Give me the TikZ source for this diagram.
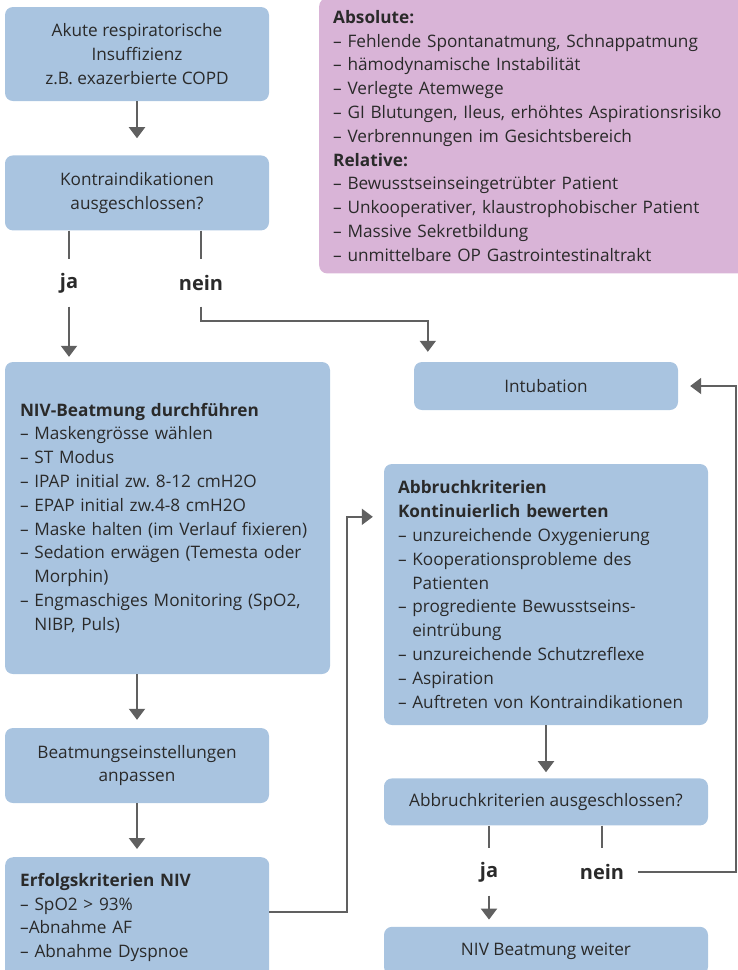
\documentclass[tikz,border=0pt]{standalone}
\usepackage{fontspec}
\setmainfont{Open Sans}
\usetikzlibrary{positioning,arrows.meta}
\definecolor{boxblue}{HTML}{A9C4E0}
\definecolor{boxpink}{HTML}{D9B4D7}
\definecolor{linegray}{HTML}{606060}
\definecolor{textgray}{HTML}{2A2A2A}
\newcommand{\ind}{\phantom{– }}
\frenchspacing

\begin{document}
\begin{tikzpicture}[x=1pt,y=-1pt,
      every node/.style={text=textgray,font=\fontsize{17.2}{23.8}\selectfont},
      box/.style={rectangle,fill=boxblue,rounded corners=8pt,inner sep=0pt,
                  align=center,minimum width=264pt},
      listbox/.style={box,align=left,inner xsep=15pt},
      note/.style={rectangle,fill=boxpink,rounded corners=8pt,align=left,
                   inner xsep=14pt,inner ysep=12pt,text width=404pt},
      answer/.style={inner sep=0pt,minimum height=47pt,
                     font=\fontsize{20}{22}\selectfont\bfseries},
      conn/.style={draw=linegray,line width=2pt},
      arr/.style={conn,-{Triangle[width=16pt,length=11pt]}},
    ]
      \useasboundingbox (0,0) rectangle (737,970);
      % left column
      \node[box,minimum height=94pt] (akut) at (137,54)
        {Akute respiratorische\\Insuffizienz\\z.B. exazerbierte COPD};
      \node[box,minimum height=75pt,below=54pt of akut] (kontra)
        {Kontraindikationen\\ausgeschlossen?};
      \node[answer] (ja1) at (69,283) {ja};
      \node[answer] (nein1) at (201,283) {nein};
      \node[listbox,minimum width=325pt,minimum height=312pt,text width=295pt]
        (niv) at (167.5,518) {%
        \textbf{NIV-Beatmung durchführen}\\
        – Maskengrösse wählen\\
        – ST Modus\\
        – IPAP initial zw. 8-12 cmH2O\\
        – EPAP initial zw.4-8 cmH2O\\
        – Maske halten (im Verlauf fixieren)\\
        – Sedation erwägen (Temesta oder\\
        \ind Morphin)\\
        – Engmaschiges Monitoring (SpO2,\\
        \ind NIBP, Puls)};
      \node[box,minimum height=75pt] (beatm) at (137,765.5)
        {Beatmungseinstellungen\\anpassen};
      \node[listbox,inner ysep=16pt,text width=234pt,anchor=north west]
        (erfolg) at (5,857) {%
        \textbf{Erfolgskriterien NIV}\\
        – SpO2 > 93\%\\
        –Abnahme AF\\
        – Abnahme Dyspnoe};
      % contraindications
      \node[note,anchor=north west] (kinote) at (319,-2) {%
        \textbf{Absolute:}\\
        – Fehlende Spontanatmung, Schnappatmung\\
        – hämodynamische Instabilität\\
        – Verlegte Atemwege\\
        – GI Blutungen, Ileus, erhöhtes Aspirationsrisiko\\
        – Verbrennungen im Gesichtsbereich\\
        \textbf{Relative:}\\
        – Bewusstseinseingetrübter Patient\\
        – Unkooperativer, klaustrophobischer Patient\\
        – Massive Sekretbildung\\
        – unmittelbare OP Gastrointestinaltrakt};
      % right column
      \node[box,minimum height=48pt] (intub) at (546,386) {Intubation};
      \node[listbox,minimum width=324pt,minimum height=261pt,text width=296pt,
            inner xsep=14pt] (abbr) at (546,594.5) {%
        \textbf{Abbruchkriterien}\\
        \textbf{Kontinuierlich bewerten}\\
        – unzureichende Oxygenierung\\
        – Kooperationsprobleme des\\
        \ind Patienten\\
        – progrediente Bewusstseins-\\
        \ind eintrübung\\
        – unzureichende Schutzreflexe\\
        – Aspiration\\
        – Auftreten von Kontraindikationen};
      \node[box,minimum width=324pt,minimum height=47pt,below=53pt of abbr]
        (ausg) {Abbruchkriterien ausgeschlossen?};
      \node[answer] (ja2) at (489,872) {ja};
      \node[answer] (nein2) at (602,872) {nein};
      \node[box,minimum width=324pt,minimum height=48pt,below=101pt of ausg]
        (weiter) {NIV Beatmung weiter};
      \coordinate (rand) at (736,0);
      \coordinate (abbrin) at ([yshift=-53pt]abbr.north west);
      \coordinate (erfolgout) at ([yshift=-55pt]erfolg.north east);
      % connectors
      \draw[arr,shorten >=17pt] (akut) -- (kontra);
      \draw[conn] (kontra.south -| ja1) -- (ja1.north);
      \draw[conn] (kontra.south -| nein1) -- (nein1.north);
      \draw[arr,shorten >=5pt] (ja1.south) -- (niv.north -| ja1);
      \draw[arr,shorten >=10pt] (nein1.south) -- ++(0,14)
        -| ([xshift=14pt]intub.north west);
      \draw[arr,shorten >=8pt] (niv.south -| beatm) -- (beatm.north);
      \draw[arr,shorten >=8pt] (beatm) -- (erfolg.north -| beatm);
      \draw[arr,shorten >=11pt] (erfolgout) -- ++(78,0) |- (abbrin);
      \draw[arr,shorten >=6pt] (abbr) -- (ausg);
      \draw[conn] (ausg.south -| ja2) -- (ja2.north);
      \draw[conn] (ausg.south -| nein2) -- (nein2.north);
      \draw[arr,shorten >=7pt] (ja2.south) -- (weiter.north -| ja2);
      \draw[arr,shorten <=14pt,shorten >=12pt] (nein2.east)
        -- (nein2.east -| rand) -- (rand |- intub.east) -- (intub.east);
    \end{tikzpicture}
\end{document}
